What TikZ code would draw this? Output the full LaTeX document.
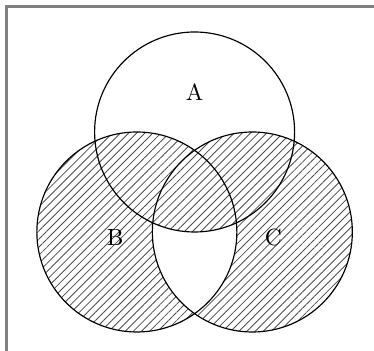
\documentclass[tikz,border=0pt]{standalone}
\usetikzlibrary{patterns.meta}

\begin{document}
\begin{tikzpicture}[
  ring/.style={draw, line width=0.5pt},
  hatch/.style={pattern={Lines[angle=45, distance=2.45pt, line width=0.35pt]}, pattern color=black!70},
  frame/.style={draw=gray, line width=0.9pt},
  lab/.style={font=\normalsize}
]

\clip (-2.919,-2.285) rectangle (2.691,2.98);
\draw[frame] (-2.821,-2.6) rectangle (3.0,2.883);

\coordinate (A) at (90:1);
\coordinate (B) at (210:1);
\coordinate (C) at (330:1);

% hatched union of B and C
\fill[hatch] (B) circle (1.5) (C) circle (1.5);

% blank part of B and C outside A
\begin{scope}
  \clip (B) circle (1.5);
  \clip (C) circle (1.5);
  \fill[white, even odd rule] (-3,-3) rectangle (3,3) (A) circle (1.5);
\end{scope}

\draw[ring] (A) circle (1.5);
\draw[ring] (B) circle (1.5);
\draw[ring] (C) circle (1.5);

\node[lab] (labA) at (0,1.6) {A};
\node[lab] (labB) at (-1.19,-0.59) {B};
\node[lab] (labC) at (1.18,-0.59) {C};

\end{tikzpicture}
\end{document}
